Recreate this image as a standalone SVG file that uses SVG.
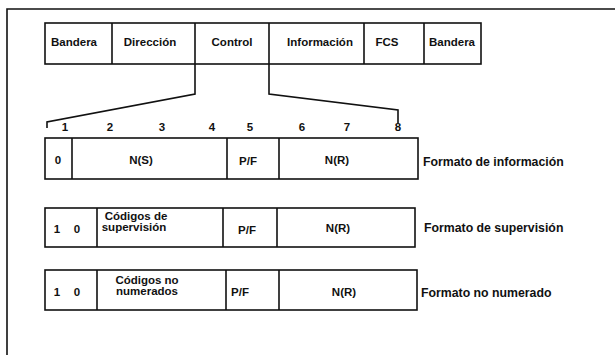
<svg xmlns="http://www.w3.org/2000/svg" width="615" height="355" viewBox="0 0 615 355">
<style>
.b{fill:none;stroke:#111;stroke-width:1.6}
.t{font-family:"Liberation Sans",Arial,sans-serif;font-weight:bold;font-size:11.5px;fill:#111;text-anchor:middle;dominant-baseline:central}
.l{font-family:"Liberation Sans",Arial,sans-serif;font-weight:bold;font-size:12.3px;fill:#111;dominant-baseline:central}
</style>
<rect width="615" height="355" fill="#fff"/>
<g id="frame"><path class="b" d="M7,355 V9 H615"/></g>
<g id="frame-top">
<rect class="b" x="45" y="23" width="436" height="41"/>
<path class="b" d="M112,23V64M195,23V64M269,23V64M364,23V64M424,23V64"/>
<text class="t" x="74" y="42">Bandera</text>
<text class="t" x="150" y="42">Dirección</text>
<text class="t" x="232" y="42">Control</text>
<text class="t" x="320" y="42">Información</text>
<text class="t" x="387" y="42">FCS</text>
<text class="t" x="452" y="42">Bandera</text>
</g>
<g id="connectors">
<path class="b" d="M195,64 V94 L47,122 V128"/>
<path class="b" d="M269,64 V94 L398,110 V123"/>
</g>
<g id="bits">
<text class="t" x="65" y="127">1</text>
<text class="t" x="110" y="127">2</text>
<text class="t" x="162" y="127">3</text>
<text class="t" x="212" y="127">4</text>
<text class="t" x="250" y="127">5</text>
<text class="t" x="302" y="127">6</text>
<text class="t" x="347" y="127">7</text>
<text class="t" x="398" y="127">8</text>
</g>
<g id="info">
<rect class="b" x="45" y="138" width="373" height="41"/>
<path class="b" d="M72,138V179M227,138V179M279,138V179"/>
<text class="t" x="58" y="160">0</text>
<text class="t" x="141" y="160">N(S)</text>
<text class="t" x="248" y="161">P/F</text>
<text class="t" x="337" y="160">N(R)</text>
<text class="l" x="423" y="162">Formato de información</text>
</g>
<g id="super">
<rect class="b" x="45" y="208" width="370" height="39"/>
<path class="b" d="M97,208V247M223,208V247M277,208V247"/>
<text class="t" x="57" y="229">1</text>
<text class="t" x="77" y="229">0</text>
<text class="t" x="136" y="216">Códigos de</text>
<text class="t" x="134" y="227">supervisión</text>
<text class="t" x="247" y="230">P/F</text>
<text class="t" x="338" y="228">N(R)</text>
<text class="l" x="424" y="228">Formato de supervisión</text>
</g>
<g id="nonum">
<rect class="b" x="45" y="270" width="372" height="40"/>
<path class="b" d="M97,270V310M226,270V310M279,270V310"/>
<text class="t" x="57" y="292">1</text>
<text class="t" x="77" y="292">0</text>
<text class="t" x="147" y="280">Códigos no</text>
<text class="t" x="147" y="291">numerados</text>
<text class="t" x="240" y="292">P/F</text>
<text class="t" x="344" y="292">N(R)</text>
<text class="l" x="421" y="293">Formato no numerado</text>
</g>
</svg>
